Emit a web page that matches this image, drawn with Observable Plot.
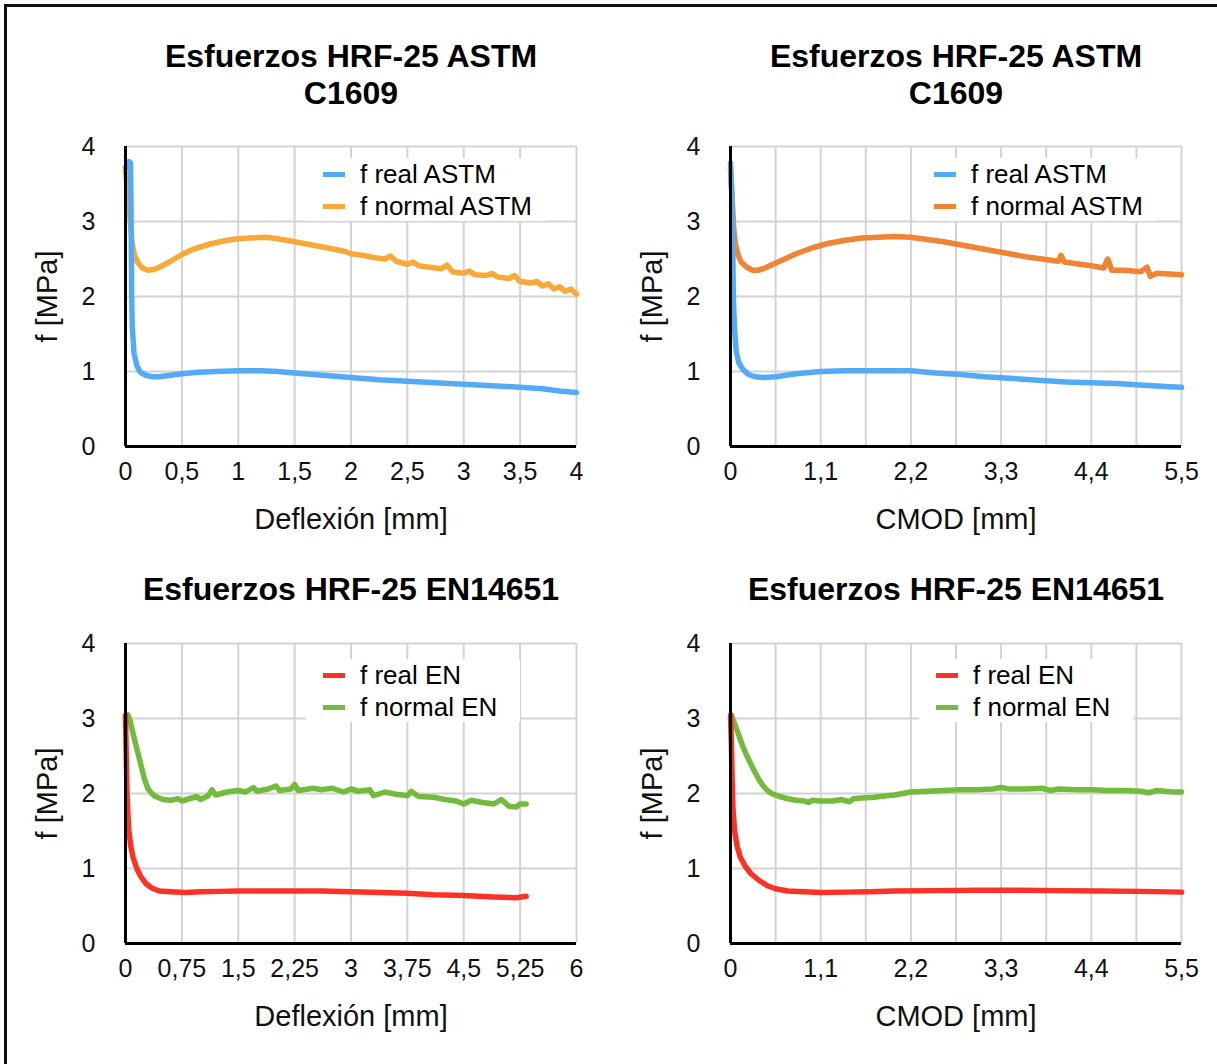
<!DOCTYPE html>
<html>
<head>
<meta charset="utf-8">
<script src="https://cdn.jsdelivr.net/npm/d3@7"></script>
<script src="https://cdn.jsdelivr.net/npm/@observablehq/plot@0.6"></script>
<style>
  html, body { margin: 0; padding: 0; background: #fff; }
  body { width: 1217px; height: 1064px; position: relative; overflow: hidden;
         font-family: "Liberation Sans", Arial, Helvetica, sans-serif; color: #000; }
  .frame { position: absolute; left: 4px; top: 4px; width: 1300px; height: 1200px;
           border-left: 3px solid #111; border-top: 3px solid #111; }
  .panel { position: absolute; }
  .title { position: absolute; text-align: center; font-weight: bold; font-size: 32px;
           line-height: 37px; color: #000; }
  .legend { position: absolute; background: #fff; }
  .legend .row { height: 32px; display: flex; align-items: center; font-size: 26px; white-space: nowrap; }
  .legend .sw { display: inline-block; width: 22px; height: 5px; margin-left: 17px; margin-right: 15px; }
</style>
</head>
<body>
<div class="frame"></div>
<div id="root"></div>
<script>
// ---------- data ----------
const titleASTM = "Esfuerzos HRF-25 ASTM C1609";
const titleEN = "Esfuerzos HRF-25 EN14651";
const labelDef = "Deflexión [mm]";
const labelCmod = "CMOD [mm]";
const labelY = "f [MPa]";
const yTicks = [0, 1, 2, 3, 4];
const ticksDefASTM = [0, 0.5, 1, 1.5, 2, 2.5, 3, 3.5, 4];
const ticksDefEN = [0, 0.75, 1.5, 2.25, 3, 3.75, 4.5, 5.25, 6];
const ticksCmod = [0, 1.1, 2.2, 3.3, 4.4, 5.5];
const gridCmod = [0.55, 1.1, 1.65, 2.2, 2.75, 3.3, 3.85, 4.4, 4.95, 5.5];
const seriesNames = ["f real ASTM", "f normal ASTM", "f real EN", "f normal EN"];

// ASTM, deflexion
const astmDefReal = [[0,3.72],[0.01,3.74],[0.03,3.8],[0.045,3.78],[0.05,3.0],[0.055,2.0],[0.06,1.6],[0.075,1.25],[0.1,1.08],[0.13,0.99],[0.18,0.95],[0.24,0.93],[0.3,0.93],[0.4,0.95],[0.5,0.97],[0.65,0.99],[0.8,1.0],[1.0,1.01],[1.2,1.01],[1.35,1.0],[1.5,0.98],[1.75,0.95],[2.0,0.92],[2.25,0.89],[2.5,0.87],[2.75,0.85],[3.0,0.83],[3.25,0.81],[3.5,0.79],[3.7,0.77],[3.85,0.74],[4.0,0.72]];
const astmDefNormal = [[0,3.68],[0.02,3.4],[0.04,3.05],[0.06,2.7],[0.08,2.55],[0.11,2.45],[0.15,2.38],[0.2,2.35],[0.25,2.36],[0.3,2.39],[0.4,2.47],[0.5,2.56],[0.6,2.63],[0.75,2.7],[0.9,2.75],[1.0,2.77],[1.1,2.78],[1.25,2.79],[1.35,2.77],[1.5,2.73],[1.75,2.66],[1.95,2.6],[2.0,2.57],[2.1,2.55],[2.2,2.52],[2.3,2.5],[2.35,2.54],[2.4,2.47],[2.5,2.43],[2.55,2.46],[2.6,2.41],[2.7,2.39],[2.8,2.37],[2.85,2.42],[2.9,2.33],[3.0,2.31],[3.05,2.34],[3.1,2.29],[3.2,2.28],[3.25,2.31],[3.3,2.26],[3.4,2.24],[3.45,2.28],[3.5,2.2],[3.6,2.18],[3.65,2.2],[3.7,2.14],[3.75,2.17],[3.8,2.1],[3.85,2.13],[3.9,2.07],[3.95,2.1],[4.0,2.03]];
// ASTM, CMOD
const astmCmodReal = [[0,3.78],[0.015,3.4],[0.025,2.9],[0.035,2.0],[0.05,1.55],[0.07,1.27],[0.1,1.12],[0.15,1.03],[0.22,0.96],[0.3,0.93],[0.4,0.92],[0.55,0.93],[0.8,0.97],[1.1,1.0],[1.4,1.01],[1.7,1.01],[2.0,1.01],[2.2,1.01],[2.5,0.98],[2.8,0.96],[3.1,0.93],[3.4,0.91],[3.8,0.88],[4.1,0.86],[4.4,0.85],[4.7,0.84],[5.0,0.82],[5.3,0.8],[5.5,0.79]];
const astmCmodNormal = [[0,3.7],[0.02,3.3],[0.04,2.9],[0.06,2.7],[0.09,2.56],[0.13,2.46],[0.2,2.39],[0.27,2.35],[0.33,2.35],[0.4,2.37],[0.5,2.42],[0.6,2.47],[0.8,2.57],[1.0,2.65],[1.2,2.71],[1.4,2.75],[1.6,2.78],[1.8,2.79],[2.0,2.8],[2.2,2.79],[2.4,2.76],[2.6,2.73],[2.8,2.69],[3.0,2.65],[3.2,2.61],[3.4,2.57],[3.6,2.53],[3.8,2.5],[4.0,2.47],[4.03,2.55],[4.07,2.46],[4.2,2.44],[4.4,2.41],[4.55,2.38],[4.6,2.5],[4.65,2.35],[4.8,2.35],[5.0,2.33],[5.08,2.39],[5.12,2.27],[5.2,2.31],[5.35,2.3],[5.5,2.29]];
// EN, deflexion
const enDefReal = [[0,3.04],[0.01,2.5],[0.02,2.0],[0.04,1.55],[0.07,1.3],[0.1,1.15],[0.15,1.0],[0.2,0.9],[0.27,0.8],[0.35,0.74],[0.45,0.7],[0.6,0.69],[0.8,0.68],[1.0,0.69],[1.25,0.695],[1.5,0.7],[2.0,0.7],[2.25,0.7],[2.6,0.7],[3.0,0.69],[3.4,0.68],[3.75,0.67],[4.1,0.65],[4.5,0.64],[4.9,0.62],[5.2,0.61],[5.33,0.63]];
const enDefNormal = [[0.03,3.05],[0.06,2.98],[0.1,2.8],[0.15,2.6],[0.2,2.4],[0.25,2.2],[0.3,2.06],[0.35,2.0],[0.4,1.96],[0.5,1.92],[0.6,1.91],[0.7,1.93],[0.75,1.9],[0.85,1.93],[0.95,1.96],[1.0,1.92],[1.1,1.97],[1.15,2.05],[1.2,1.98],[1.35,2.02],[1.5,2.04],[1.6,2.02],[1.7,2.08],[1.75,2.03],[1.9,2.06],[2.0,2.1],[2.05,2.04],[2.2,2.06],[2.25,2.12],[2.3,2.04],[2.5,2.07],[2.6,2.05],[2.75,2.07],[2.9,2.02],[3.0,2.06],[3.1,2.03],[3.25,2.05],[3.3,1.97],[3.45,2.02],[3.6,1.99],[3.75,1.97],[3.8,2.03],[3.9,1.96],[4.1,1.95],[4.25,1.92],[4.4,1.9],[4.5,1.86],[4.6,1.91],[4.75,1.88],[4.9,1.86],[5.0,1.92],[5.1,1.83],[5.2,1.82],[5.25,1.86],[5.33,1.86]];
// EN, CMOD
const enCmodReal = [[0,3.04],[0.01,2.7],[0.02,2.2],[0.03,1.8],[0.05,1.5],[0.08,1.3],[0.12,1.15],[0.18,1.03],[0.25,0.93],[0.35,0.84],[0.45,0.77],[0.55,0.73],[0.7,0.7],[0.9,0.69],[1.1,0.68],[1.4,0.685],[1.7,0.69],[2.0,0.7],[2.5,0.705],[3.0,0.71],[3.5,0.71],[4.0,0.705],[4.5,0.7],[5.0,0.695],[5.5,0.685]];
const enCmodNormal = [[0.01,3.05],[0.05,2.93],[0.1,2.78],[0.15,2.63],[0.2,2.5],[0.25,2.39],[0.3,2.28],[0.35,2.18],[0.4,2.1],[0.45,2.04],[0.5,2.0],[0.6,1.96],[0.7,1.93],[0.8,1.91],[0.9,1.9],[0.95,1.88],[1.0,1.91],[1.1,1.9],[1.25,1.9],[1.35,1.92],[1.45,1.89],[1.5,1.93],[1.6,1.94],[1.75,1.95],[1.9,1.97],[2.0,1.98],[2.1,2.0],[2.2,2.02],[2.4,2.03],[2.6,2.04],[2.8,2.05],[3.0,2.05],[3.2,2.06],[3.3,2.08],[3.4,2.06],[3.6,2.06],[3.8,2.07],[3.9,2.04],[4.0,2.06],[4.2,2.05],[4.4,2.05],[4.6,2.04],[4.8,2.04],[5.0,2.03],[5.1,2.01],[5.2,2.04],[5.4,2.02],[5.5,2.02]];

const colorBlue = "#55aaf5";
const colorOrangeA = "#f9a83a";
const colorOrangeB = "#ee8434";
const colorRed = "#fc3226";
const colorGreen = "#74ba3c";

// ---------- drawing ----------
const root = document.getElementById("root");
const fmt = d => String(d).replace(".", ",");

function panel(o) {
  const svg = Plot.plot({
    width: o.width, height: 416,
    marginLeft: 125, marginRight: o.width - 576, marginTop: 26, marginBottom: 90,
    x: {domain: [0, o.xmax]},
    y: {domain: [0, 4]},
    style: {fontFamily: '"Liberation Sans", Arial, Helvetica, sans-serif', fontSize: "25px", color: "#111", background: "transparent", overflow: "visible"},
    marks: [
      Plot.gridX(o.grid, {stroke: "#d3d3d3", strokeOpacity: 1, strokeWidth: 2}),
      Plot.gridY([1, 2, 3, 4], {stroke: "#d3d3d3", strokeOpacity: 1, strokeWidth: 2}),
      Plot.line(o.s2, {x: d => d[0], y: d => d[1], stroke: o.c2, strokeWidth: 5.5, strokeLinejoin: "round", strokeLinecap: "round"}),
      Plot.line(o.s1, {x: d => d[0], y: d => d[1], stroke: o.c1, strokeWidth: 5.5, strokeLinejoin: "round", strokeLinecap: "round"}),
      Plot.ruleX([0], {stroke: "#000", strokeWidth: 3}),
      Plot.ruleY([0], {stroke: "#000", strokeWidth: 3}),
      Plot.axisX(o.ticks, {tickSize: 0, tickPadding: 16, tickFormat: fmt, label: o.xlabel, labelAnchor: "center", labelArrow: "none", labelOffset: 82, fontSize: 25}),
      Plot.axisY(yTicks, {tickSize: 0, tickPadding: 30, tickFormat: d => String(d), label: labelY, labelAnchor: "center", labelArrow: "none", labelOffset: 89, fontSize: 25})
    ]
  });
  svg.classList.add("panel");
  svg.style.left = o.left + "px";
  svg.style.top = o.top + "px";
  svg.style.position = "absolute";
  root.appendChild(svg);
  // title
  const t = document.createElement("div");
  t.className = "title";
  t.textContent = o.title;
  t.style.left = (o.left + 351 - o.titleWidth / 2) + "px";
  t.style.width = o.titleWidth + "px";
  t.style.top = o.titleTop + "px";
  root.appendChild(t);
  // legend
  const lg = document.createElement("div");
  lg.className = "legend";
  lg.style.left = o.legLeft + "px";
  lg.style.top = o.legTop + "px";
  lg.style.width = o.legWidth + "px";
  lg.style.height = "63px";
  for (const [name, c] of [[o.n1, o.c1], [o.n2, o.c2]]) {
    const r = document.createElement("div");
    r.className = "row";
    const sw = document.createElement("span");
    sw.className = "sw";
    sw.style.background = c;
    r.appendChild(sw);
    r.appendChild(document.createTextNode(name));
    lg.appendChild(r);
  }
  root.appendChild(lg);
}

panel({left: 0, top: 120, width: 605, xmax: 4, grid: ticksDefASTM.slice(1), ticks: ticksDefASTM, xlabel: labelDef,
  s1: astmDefReal, s2: astmDefNormal, c1: colorBlue, c2: colorOrangeA, n1: seriesNames[0], n2: seriesNames[1],
  title: titleASTM, titleWidth: 430, titleTop: 38, legLeft: 306, legTop: 158, legWidth: 240});
panel({left: 605, top: 120, width: 612, xmax: 5.5, grid: gridCmod, ticks: ticksCmod, xlabel: labelCmod,
  s1: astmCmodReal, s2: astmCmodNormal, c1: colorBlue, c2: colorOrangeB, n1: seriesNames[0], n2: seriesNames[1],
  title: titleASTM, titleWidth: 430, titleTop: 38, legLeft: 917, legTop: 158, legWidth: 240});
panel({left: 0, top: 617, width: 605, xmax: 6, grid: ticksDefEN.slice(1), ticks: ticksDefEN, xlabel: labelDef,
  s1: enDefReal, s2: enDefNormal, c1: colorRed, c2: colorGreen, n1: seriesNames[2], n2: seriesNames[3],
  title: titleEN, titleWidth: 540, titleTop: 571, legLeft: 306, legTop: 659, legWidth: 214});
panel({left: 605, top: 617, width: 612, xmax: 5.5, grid: gridCmod, ticks: ticksCmod, xlabel: labelCmod,
  s1: enCmodReal, s2: enCmodNormal, c1: colorRed, c2: colorGreen, n1: seriesNames[2], n2: seriesNames[3],
  title: titleEN, titleWidth: 540, titleTop: 571, legLeft: 919, legTop: 659, legWidth: 214});

// axis titles are larger than tick labels in the reference
document.querySelectorAll("svg.panel g[aria-label='x-axis label'], svg.panel g[aria-label='y-axis label']").forEach(g => g.setAttribute("font-size", "29"));
</script>
</body>
</html>
